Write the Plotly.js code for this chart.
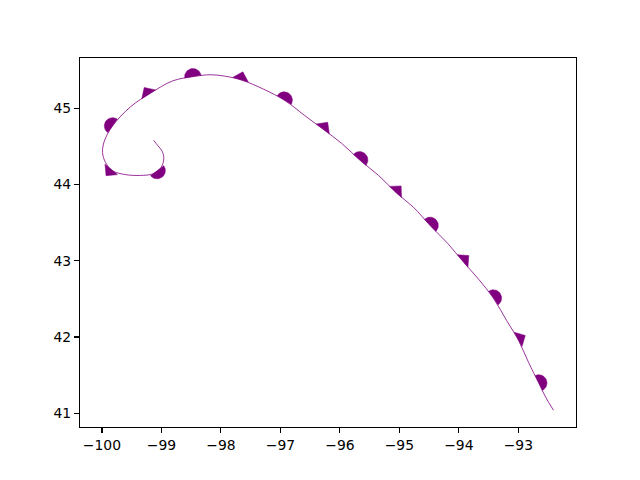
<!DOCTYPE html>
<html>
<head>
<meta charset="utf-8">
<script src="https://cdn.plot.ly/plotly-3.0.1.min.js"></script>
<style>html,body{margin:0;padding:0;background:#fff;}#chart{width:640px;height:480px;}</style>
</head>
<body>
<div id="chart"></div>
<script>
// Occluded front path (from SE end to spiral end)
const frontLon = [-92.41,-92.54,-92.66,-92.83,-93.00,-93.20,-93.42,-93.67,-93.92,-94.19,-94.48,-94.76,-95.05,-95.35,-95.65,-95.97,-96.29,-96.60,-96.92,-97.28,-97.65,-97.92,-98.18,-98.43,-98.81,-99.18,-99.52,-99.82,-99.96,-99.99,-99.94,-99.82,-99.60,-99.35,-99.15,-99.01,-98.96,-98.99,-99.06,-99.13];
const frontLat = [41.04,41.21,41.40,41.67,41.96,42.22,42.51,42.76,42.98,43.23,43.46,43.70,43.89,44.12,44.31,44.54,44.73,44.91,45.10,45.25,45.37,45.42,45.44,45.42,45.36,45.20,45.02,44.77,44.57,44.42,44.29,44.18,44.13,44.12,44.14,44.22,44.34,44.44,44.51,44.58];
const xTickVals = [-100,-99,-98,-97,-96,-95,-94,-93];
const xTickText = ['−100','−99','−98','−97','−96','−95','−94','−93'];
const yTickVals = [41,42,43,44,45];
const yTickText = ['41','42','43','44','45'];
const frontColor = '#800080';

const W = 640, H = 480, M = {l:80, r:64, t:58, b:53};
const plotW = W - M.l - M.r, plotH = H - M.t - M.b;
function padRange(a){const mn=Math.min(...a),mx=Math.max(...a),p=(mx-mn)*0.05;return [mn-p,mx+p];}
const xr = padRange(frontLon), yr = padRange(frontLat);
const kx = plotW/(xr[1]-xr[0]), ky = plotH/(yr[1]-yr[0]);

// path in pixel space (y up)
const P = frontLon.map((x,i)=>[(x-xr[0])*kx,(frontLat[i]-yr[0])*ky]);
const cum=[0];
for(let i=1;i<P.length;i++){cum.push(cum[i-1]+Math.hypot(P[i][0]-P[i-1][0],P[i][1]-P[i-1][1]));}
const total = cum[cum.length-1];
function pointAt(s){
  s=Math.max(0,Math.min(total,s));
  let i=1; while(i<cum.length-1 && cum[i]<s) i++;
  const f=(s-cum[i-1])/(cum[i]-cum[i-1]||1);
  return [P[i-1][0]+f*(P[i][0]-P[i-1][0]), P[i-1][1]+f*(P[i][1]-P[i-1][1])];
}
const toData = p=>[p[0]/kx+xr[0], p[1]/ky+yr[0]];
const semiX=[],semiY=[],triX=[],triY=[];
const R = 8.3, start = 31, spacing = 48.2;
let k=0;
for(let s=start; s<total-5; s+=spacing, k++){
  const c=pointAt(s), a=pointAt(s-5), b=pointAt(s+5);
  let tx=b[0]-a[0], ty=b[1]-a[1]; const L=Math.hypot(tx,ty); tx/=L; ty/=L;
  const nx=ty, ny=-tx; // right-hand normal
  let pts=[];
  if(k%2===0){
    for(let j=0;j<=24;j++){const th=Math.PI*j/24; pts.push([c[0]+R*(Math.cos(th)*tx+Math.sin(th)*nx), c[1]+R*(Math.cos(th)*ty+Math.sin(th)*ny)]);}
    pts.forEach(p=>{const d=toData(p); semiX.push(d[0]); semiY.push(d[1]);});
    semiX.push(null); semiY.push(null);
  } else {
    pts=[[c[0]-R*tx,c[1]-R*ty],[c[0]+R*nx,c[1]+R*ny],[c[0]+R*tx,c[1]+R*ty]];
    pts.forEach(p=>{const d=toData(p); triX.push(d[0]); triY.push(d[1]);});
    triX.push(null); triY.push(null);
  }
}

const traces = [
  {x:frontLon, y:frontLat, type:'scatter', mode:'lines', line:{color:frontColor, width:0.8, shape:'spline', smoothing:1}, hoverinfo:'skip'},
  {x:semiX, y:semiY, type:'scatter', mode:'lines', fill:'toself', fillcolor:frontColor, line:{color:frontColor, width:0.5}, hoverinfo:'skip'},
  {x:triX, y:triY, type:'scatter', mode:'lines', fill:'toself', fillcolor:frontColor, line:{color:frontColor, width:0.5}, hoverinfo:'skip'}
];
const axisCommon = {showgrid:false, zeroline:false, showline:true, mirror:true, linecolor:'#000', linewidth:1.1,
  ticks:'outside', ticklen:4.9, tickwidth:1.1, tickcolor:'#000', tickfont:{family:'DejaVu Sans', size:13.9, color:'#000'}};
const layout = {
  width:W, height:H, margin:M, paper_bgcolor:'#fff', plot_bgcolor:'#fff', showlegend:false,
  xaxis:Object.assign({}, axisCommon, {range:xr, tickmode:'array', tickvals:xTickVals, ticktext:xTickText}),
  yaxis:Object.assign({}, axisCommon, {range:yr, tickmode:'array', tickvals:yTickVals, ticktext:yTickText})
};
Plotly.newPlot('chart', traces, layout, {staticPlot:true, displayModeBar:false});
</script>
</body>
</html>
